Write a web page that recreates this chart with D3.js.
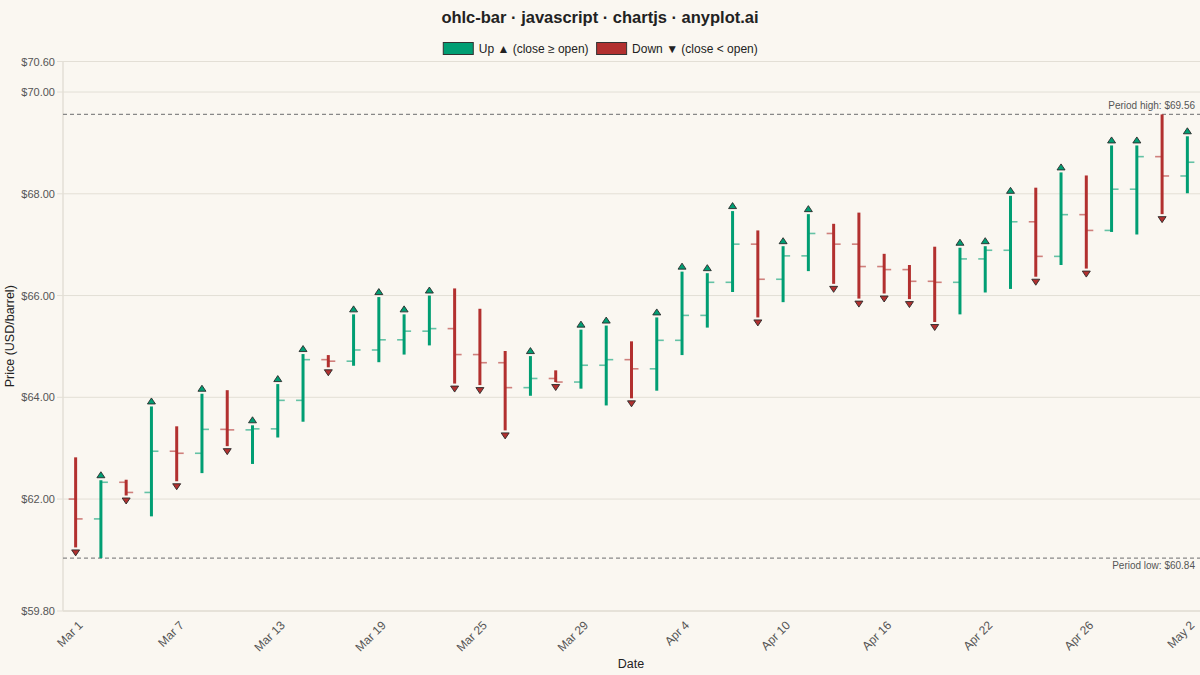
<!DOCTYPE html>
<html>
<head>
<meta charset="utf-8">
<script src="https://cdn.jsdelivr.net/npm/d3@7"></script>
<style>
  html, body { margin: 0; padding: 0; background: #faf7f1; }
  svg { display: block; font-family: "Liberation Sans", Arial, sans-serif; }
</style>
</head>
<body>
<svg id="chart" width="1200" height="675"></svg>
<script>

// ===========================//
// DATA
// ===========================//

// trading days, Mar 1 -> May 2
var dates = ["Mar 1","Mar 4","Mar 5","Mar 6","Mar 7","Mar 8","Mar 11","Mar 12","Mar 13","Mar 14",
  "Mar 15","Mar 18","Mar 19","Mar 20","Mar 21","Mar 22","Mar 25","Mar 26","Mar 27","Mar 28",
  "Mar 29","Apr 1","Apr 2","Apr 3","Apr 4","Apr 5","Apr 8","Apr 9","Apr 10","Apr 11",
  "Apr 12","Apr 15","Apr 16","Apr 17","Apr 18","Apr 19","Apr 22","Apr 23","Apr 24","Apr 25",
  "Apr 26","Apr 29","Apr 30","May 1","May 2"]

var open = [62.00,61.61,62.33,62.13,62.94,62.90,63.37,63.36,63.38,63.94,
  64.74,64.71,64.93,65.13,65.30,65.35,64.84,64.68,64.19,64.37,
  64.30,64.63,64.74,64.56,65.12,65.61,66.26,67.01,66.32,66.78,
  67.22,67.01,66.57,66.51,66.28,66.26,66.72,66.89,67.45,66.77,
  67.59,67.28,68.09,68.73,68.35]

var high = [62.82,62.37,62.38,63.82,63.43,64.07,64.14,63.45,64.26,64.85,
  64.83,65.63,65.97,65.63,66.00,66.14,65.74,64.91,64.81,64.53,
  65.33,65.41,65.10,65.57,66.47,66.44,67.66,67.28,66.97,67.60,
  67.41,67.63,66.82,66.60,66.96,66.94,66.97,67.96,68.12,68.42,
  68.36,68.95,68.95,69.56,69.13]

var low = [61.05,60.84,62.07,61.66,62.35,62.51,63.04,62.69,63.21,63.52,
  64.59,64.62,64.69,64.84,65.02,64.27,64.24,63.35,64.03,64.30,
  64.17,63.84,63.98,64.13,64.83,65.37,66.07,65.57,65.87,66.48,
  66.23,65.94,66.04,65.93,65.48,65.63,66.06,66.13,66.37,66.60,
  66.53,67.25,67.20,67.60,68.01]

var close = [61.61,62.33,62.13,62.94,62.90,63.37,63.36,63.38,63.94,64.74,
  64.71,64.93,65.13,65.30,65.35,64.84,64.68,64.19,64.37,64.30,
  64.63,64.74,64.56,65.12,65.61,66.26,67.01,66.32,66.78,67.22,
  67.01,66.57,66.51,66.28,66.26,66.72,66.89,67.45,66.77,67.59,
  67.28,68.09,68.73,68.35,68.62]

var yTicks = [59.8, 62, 64, 66, 68, 70, 70.6]

var bars = dates.map(function(d, i){
  return {date: d, o: open[i], h: high[i], l: low[i], c: close[i], up: close[i] >= open[i]}
})

// ===========================//
// SETUP
// ===========================//

var upColor = "#009e73"
var downColor = "#b2302f"
var gridColor = "#e3dfd6"
var textColor = "#555"

var svg = d3.select("#chart")
var plotLeft = 63, plotRight = 1200, plotTop = 61.5, plotBottom = 611

var x = d3.scaleBand()
  .domain(dates)
  .range([plotLeft, plotRight])
  .padding(0)

var y = d3.scaleLinear()
  .domain([59.8, 70.6])
  .range([plotBottom, plotTop])

function cx(d){ return x(d) + x.bandwidth() / 2 }

// title
svg.append("text")
  .attr("x", 600).attr("y", 23)
  .attr("text-anchor", "middle")
  .style("font-size", "16.5px").style("font-weight", "bold").style("fill", "#222")
  .text("ohlc-bar · javascript · chartjs · anyplot.ai")

// legend (laid out from measured text widths, centred)
var legendItems = [
  {label: "Up ▲ (close ≥ open)", color: upColor},
  {label: "Down ▼ (close < open)", color: downColor}
]
var lg = svg.selectAll(".legendItem").data(legendItems).enter().append("g")
  .attr("class", "legendItem")
lg.append("rect")
  .attr("x", 0.5).attr("y", 0.5).attr("width", 30).attr("height", 12)
  .attr("fill", function(d){ return d.color })
  .attr("stroke", "#333").attr("stroke-width", 1)
lg.append("text")
  .attr("x", 36).attr("y", 10.5)
  .style("font-size", "12px").style("fill", "#222")
  .text(function(d){ return d.label })

var widths = []
lg.each(function(){ widths.push(this.getBBox().width) })
var totalW = d3.sum(widths) + 8 * (widths.length - 1)
var lx = 600 - totalW / 2
lg.attr("transform", function(d, i){
  var t = "translate(" + lx + ",42)"
  lx += widths[i] + 8
  return t
})

// ===========================//
// AXES + GRID
// ===========================//

svg.append("g").selectAll("line").data(yTicks).enter().append("line")
  .attr("x1", plotLeft - 6).attr("x2", plotRight)
  .attr("y1", function(d){ return y(d) }).attr("y2", function(d){ return y(d) })
  .attr("stroke", gridColor).attr("stroke-width", 1)

svg.append("g").selectAll("text").data(yTicks).enter().append("text")
  .attr("x", 55).attr("y", function(d){ return y(d) + 4 })
  .attr("text-anchor", "end")
  .style("font-size", "11px").style("fill", textColor)
  .text(function(d){ return "$" + d.toFixed(2) })

svg.append("line")
  .attr("x1", plotLeft).attr("x2", plotLeft).attr("y1", plotTop).attr("y2", plotBottom)
  .attr("stroke", gridColor).attr("stroke-width", 1.5)
svg.append("line")
  .attr("x1", plotLeft).attr("x2", plotRight).attr("y1", plotBottom).attr("y2", plotBottom)
  .attr("stroke", gridColor).attr("stroke-width", 1.5)

// x labels every 4th trading day
var xLabels = dates.filter(function(d, i){ return i % 4 == 0 })
svg.append("g").selectAll("text").data(xLabels).enter().append("text")
  .attr("transform", function(d){ return "translate(" + (cx(d) + 2) + "," + (plotBottom + 9) + ") rotate(-45)" })
  .attr("text-anchor", "end")
  .attr("dy", "0.7em")
  .style("font-size", "12px").style("fill", textColor)
  .text(function(d){ return d })

svg.append("text")
  .attr("x", 631).attr("y", 668)
  .attr("text-anchor", "middle")
  .style("font-size", "12.5px").style("fill", "#222")
  .text("Date")

svg.append("text")
  .attr("transform", "translate(14," + ((plotTop + plotBottom) / 2) + ") rotate(-90)")
  .attr("text-anchor", "middle")
  .style("font-size", "12.5px").style("fill", "#222")
  .text("Price (USD/barrel)")

// ===========================//
// PERIOD HIGH / LOW
// ===========================//

var periodHigh = d3.max(high)
var periodLow = d3.min(low)

var refs = [
  {v: periodHigh, label: "Period high: $" + periodHigh.toFixed(2), dy: -5},
  {v: periodLow, label: "Period low: $" + periodLow.toFixed(2), dy: 11}
]
svg.append("g").selectAll("line").data(refs).enter().append("line")
  .attr("x1", plotLeft).attr("x2", plotRight)
  .attr("y1", function(d){ return y(d.v) }).attr("y2", function(d){ return y(d.v) })
  .attr("stroke", "#888").attr("stroke-width", 1.2)
  .attr("stroke-dasharray", "4,3")
svg.append("g").selectAll("text").data(refs).enter().append("text")
  .attr("x", 1195).attr("y", function(d){ return y(d.v) + d.dy })
  .attr("text-anchor", "end")
  .style("font-size", "10px").style("fill", textColor)
  .text(function(d){ return d.label })

// ===========================//
// OHLC BARS
// ===========================//

var g = svg.append("g").selectAll("g").data(bars).enter().append("g")

function col(d){ return d.up ? upColor : downColor }

// high-low line
g.append("line")
  .attr("x1", function(d){ return cx(d.date) }).attr("x2", function(d){ return cx(d.date) })
  .attr("y1", function(d){ return y(d.h) }).attr("y2", function(d){ return y(d.l) })
  .attr("stroke", col).attr("stroke-width", 3)

// open tick (left)
g.append("line")
  .attr("x1", function(d){ return cx(d.date) - 7 }).attr("x2", function(d){ return cx(d.date) })
  .attr("y1", function(d){ return y(d.o) }).attr("y2", function(d){ return y(d.o) })
  .attr("stroke", col).attr("stroke-width", 1.6).attr("stroke-opacity", 0.6)

// close tick (right)
g.append("line")
  .attr("x1", function(d){ return cx(d.date) }).attr("x2", function(d){ return cx(d.date) + 7 })
  .attr("y1", function(d){ return y(d.c) }).attr("y2", function(d){ return y(d.c) })
  .attr("stroke", col).attr("stroke-width", 1.6).attr("stroke-opacity", 0.6)

// direction markers
g.append("path")
  .attr("d", function(d){
    var px = cx(d.date)
    if(d.up){
      var b = y(d.h) - 2.5
      return "M" + (px - 4) + "," + b + "L" + (px + 4) + "," + b + "L" + px + "," + (b - 6) + "Z"
    }else{
      var t = y(d.l) + 2.5
      return "M" + (px - 4) + "," + t + "L" + (px + 4) + "," + t + "L" + px + "," + (t + 6) + "Z"
    }
  })
  .attr("fill", col)
  .attr("stroke", "#2a2a2a").attr("stroke-width", 0.9)

</script>
</body>
</html>
